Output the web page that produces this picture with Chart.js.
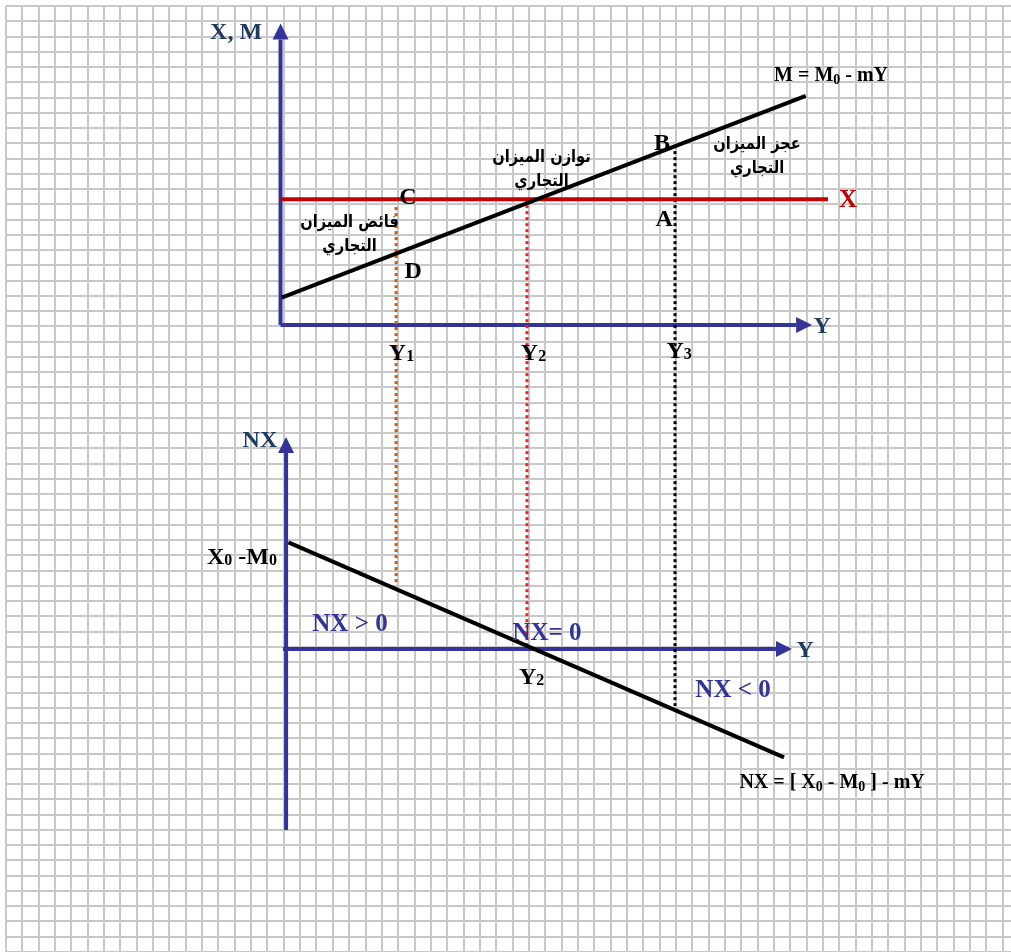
<!DOCTYPE html>
<html lang="ar">
<head>
<meta charset="utf-8">
<title>الميزان التجاري</title>
<script src="https://cdn.jsdelivr.net/npm/chart.js@4.4.1/dist/chart.umd.min.js"></script>
<style>
  html, body { margin: 0; padding: 0; background: #fff; }
  #wrap { width: 1011px; height: 952px; position: relative; }
</style>
</head>
<body>
<div id="wrap"><canvas id="diagram"></canvas></div>
<script>
// unit = one square of the graph paper
const gridCols = 61.5;
const gridRows = 62;

// upper panel : X, M against Y
const axisXM = [[16.8, 41.1], [16.8, 59.8]];
const axisYUp = [[16.8, 41.1], [48.35, 41.1]];
const exportsX = [[16.8, 49.34], [50.3, 49.34]];
const importsM = [[16.87, 42.88], [48.94, 56.11]];

// income levels Y1, Y2, Y3 and their guide lines
const incomeNames = ['Y_1', 'Y_2', 'Y_3'];
const incomeAt = [23.87, 31.88, 40.94];
const guideTop = [48.82, 49.34, 52.88];
const guideBottom = [24.18, 19.86, 16.12];
const guideColors = ['#c55a11', '#ff1a1a', '#000000'];

// lower panel : NX against Y
const axisNX = [[17.14, 7.99], [17.14, 32.7]];
const axisYLow = [[16.95, 19.86], [47.12, 19.86]];
const netExports = [[17.28, 26.85], [47.61, 12.76]];

// text notes (k = style)
const notes = [
  { t: 'X, M', x: 14.08, y: 60.35, k: 'navy' },
  { t: 'Y', x: 49.94, y: 41.09, k: 'navy' },
  { t: 'X', x: 51.53, y: 49.34, k: 'red' },
  { t: 'M = M_0 - mY', x: 50.49, y: 57.54, k: 'eq' },
  { t: 'B', x: 40.15, y: 53.08, k: 'pt' },
  { t: 'A', x: 40.27, y: 48.10, k: 'pt' },
  { t: 'C', x: 24.60, y: 49.54, k: 'pt' },
  { t: 'D', x: 24.91, y: 44.69, k: 'pt' },
  { t: incomeNames[0], x: incomeAt[0] + 0.33, y: 39.32, k: 'pt' },
  { t: incomeNames[1], x: incomeAt[1] + 0.4, y: 39.32, k: 'pt' },
  { t: incomeNames[2], x: incomeAt[2] + 0.25, y: 39.45, k: 'pt' },
  { t: 'توازن الميزان\nالتجاري', x: 32.77, y: 51.31, k: 'ar' },
  { t: 'عجز الميزان\nالتجاري', x: 45.96, y: 52.10, k: 'ar' },
  { t: 'فائض الميزان\nالتجاري', x: 21.02, y: 47.05, k: 'ar' },
  { t: 'NX', x: 15.54, y: 33.62, k: 'navy' },
  { t: 'X_0 -M_0', x: 14.44, y: 25.95, k: 'pt' },
  { t: 'NX > 0', x: 21.05, y: 21.56, k: 'blue' },
  { t: 'NX= 0', x: 33.11, y: 20.97, k: 'blue' },
  { t: incomeNames[1], x: 32.16, y: 18.09, k: 'pt' },
  { t: 'NX < 0', x: 44.49, y: 17.23, k: 'blue' },
  { t: 'Y', x: 48.90, y: 19.86, k: 'navy' },
  { t: 'NX = [ X_0 - M_0 ] - mY', x: 50.55, y: 11.21, k: 'eq' }
];

const styles = {
  navy: { color: '#1f3a60', size: 24, drop: 0.05 },
  red:  { color: '#c00000', size: 25, drop: 0.05 },
  pt:   { color: '#000000', size: 24, drop: 0.06 },
  eq:   { color: '#000000', size: 20, drop: 0.15 },
  blue: { color: '#333399', size: 25, drop: 0.05 },
  ar:   { color: '#000000', size: 17, lead: 24, squeeze: 0.86 }
};

const serif = '"Liberation Serif", "Times New Roman", serif';
const toXY = pts => pts.map(p => ({ x: p[0], y: p[1] }));

function lineSet(pts, color, width, extra) {
  return Object.assign({
    data: toXY(pts),
    borderColor: color,
    backgroundColor: color,
    borderWidth: width,
    pointRadius: 0,
    fill: false,
    tension: 0,
    borderCapStyle: 'butt'
  }, extra || {});
}

// draw text with "_x" subscripts
function drawRich(ctx, str, cx, cy, st) {
  const parts = [];
  str.split(/_(\w)/).forEach((s, i) => { if (s) parts.push({ s, sub: i % 2 === 1 }); });
  const big = 'bold ' + st.size + 'px ' + serif;
  const small = 'bold ' + Math.round(st.size * 0.68) + 'px ' + serif;
  let total = 0;
  parts.forEach(p => { ctx.font = p.sub ? small : big; p.w = ctx.measureText(p.s).width; total += p.w; });
  let x = cx - total / 2;
  const base = cy + st.size * 0.33;
  ctx.textAlign = 'left';
  ctx.textBaseline = 'alphabetic';
  ctx.fillStyle = st.color;
  parts.forEach(p => {
    ctx.font = p.sub ? small : big;
    ctx.fillText(p.s, x, p.sub ? base + st.size * st.drop : base);
    x += p.w;
  });
}

const arrowHeads = {
  id: 'arrowHeads',
  afterDatasetsDraw(chart) {
    const ctx = chart.ctx;
    chart.data.datasets.forEach((ds, i) => {
      if (!ds.arrow) return;
      const pts = chart.getDatasetMeta(i).data;
      const a = pts[pts.length - 2], b = pts[pts.length - 1];
      const ang = Math.atan2(b.y - a.y, b.x - a.x);
      ctx.save();
      ctx.translate(b.x, b.y);
      ctx.rotate(ang);
      ctx.beginPath();
      ctx.moveTo(16, 0);
      ctx.lineTo(0, -8);
      ctx.lineTo(0, 8);
      ctx.closePath();
      ctx.fillStyle = ds.borderColor;
      ctx.fill();
      ctx.restore();
    });
  }
};

const textNotes = {
  id: 'textNotes',
  afterDraw(chart) {
    const ctx = chart.ctx;
    const sx = chart.scales.x, sy = chart.scales.y;
    ctx.save();
    notes.forEach(n => {
      const st = styles[n.k];
      const px = sx.getPixelForValue(n.x);
      const py = sy.getPixelForValue(n.y);
      if (n.k === 'ar') {
        const lines = n.t.split('\n');
        ctx.save();
        ctx.translate(px, py);
        ctx.scale(st.squeeze, 1);
        ctx.font = 'bold ' + st.size + 'px "DejaVu Sans", sans-serif';
        ctx.fillStyle = st.color;
        ctx.textAlign = 'center';
        ctx.textBaseline = 'middle';
        ctx.direction = 'rtl';
        lines.forEach((l, i) => {
          ctx.fillText(l, 0, (i - (lines.length - 1) / 2) * st.lead);
        });
        ctx.restore();
      } else {
        drawRich(ctx, n.t, px, py, st);
      }
    });
    ctx.restore();
  }
};

const datasets = [
  lineSet(importsM, '#000000', 4),
  lineSet(netExports, '#000000', 4),
  lineSet(exportsX, '#c00000', 4)
];
incomeAt.forEach((x, i) => {
  datasets.push(lineSet([[x, guideTop[i]], [x, guideBottom[i]]], guideColors[i], 3, { borderDash: [3, 3] }));
});
datasets.push(
  lineSet(axisXM, '#333399', 4, { arrow: true }),
  lineSet(axisYUp, '#333399', 4, { arrow: true }),
  lineSet(axisNX, '#333399', 4, { arrow: true }),
  lineSet(axisYLow, '#333399', 4, { arrow: true })
);

const gridScale = max => ({
  type: 'linear',
  min: 0,
  max: max,
  ticks: { stepSize: 1, display: false, includeBounds: false, autoSkip: false },
  grid: { color: '#c8c8c8', lineWidth: 2, drawTicks: false },
  border: { display: false }
});

new Chart(document.getElementById('diagram'), {
  type: 'line',
  data: { datasets },
  options: {
    responsive: true,
    maintainAspectRatio: false,
    animation: false,
    events: [],
    layout: { padding: { left: 6, top: 6, right: 0, bottom: 0 } },
    plugins: { legend: { display: false }, tooltip: { enabled: false } },
    scales: { x: gridScale(gridCols), y: gridScale(gridRows) }
  },
  plugins: [arrowHeads, textNotes]
});
</script>
</body>
</html>
